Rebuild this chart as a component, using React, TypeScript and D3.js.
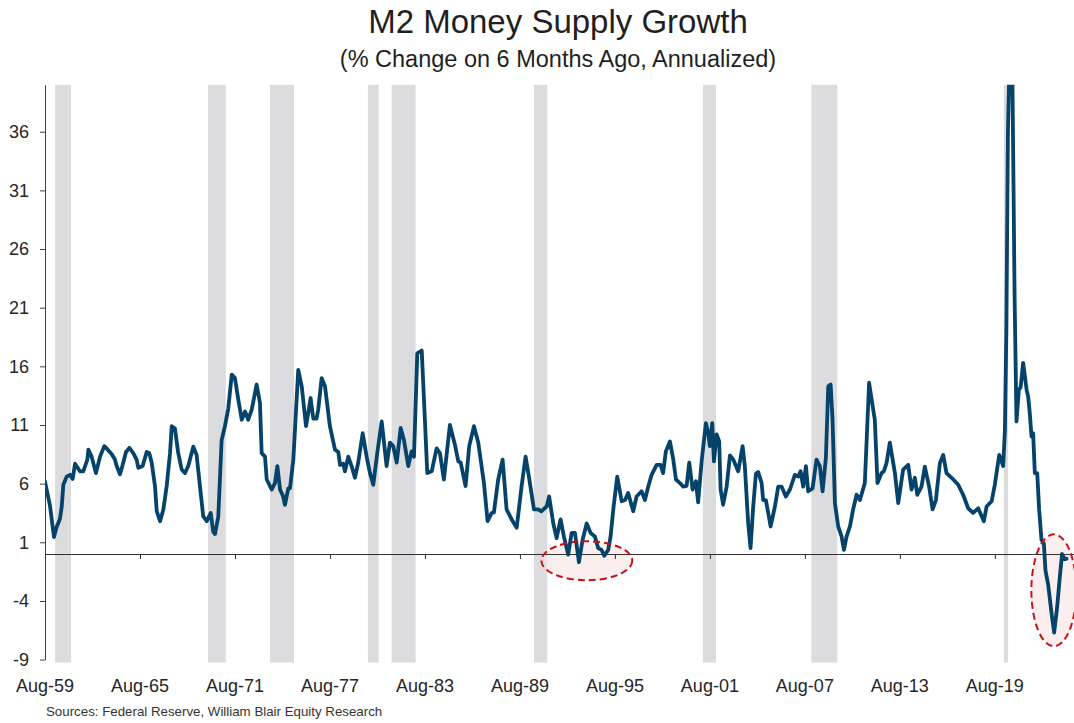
import { useEffect, useRef } from "react"
import * as d3 from "d3"

// [decimal year, % change on 6 months ago, annualized]
const m2Sixties = [
  [1959.58, 6.2], [1959.9, 4.1], [1960.15, 1.45], [1960.32, 2.3], [1960.53, 3.0], [1960.64, 4.05],
  [1960.74, 5.9], [1960.95, 6.6], [1961.16, 6.75], [1961.33, 6.4], [1961.48, 7.7], [1961.79, 7.05],
  [1962.0, 7.05], [1962.26, 8.05], [1962.32, 8.9], [1962.53, 8.3], [1962.8, 6.9], [1963.06, 8.3],
  [1963.33, 9.2], [1963.48, 9.0], [1963.8, 8.5], [1964.0, 8.05], [1964.11, 7.5], [1964.32, 6.8],
  [1964.43, 7.3], [1964.7, 8.7], [1964.91, 9.05], [1965.16, 8.6], [1965.37, 8.05], [1965.48, 7.35],
  [1965.75, 7.5], [1966.01, 8.7], [1966.17, 8.6], [1966.32, 7.8], [1966.53, 5.8], [1966.64, 3.65],
  [1966.85, 2.8], [1967.06, 3.8], [1967.27, 5.8], [1967.48, 8.6], [1967.59, 10.9], [1967.79, 10.7],
  [1968.0, 8.6], [1968.22, 7.2], [1968.43, 6.9], [1968.63, 7.5], [1968.95, 9.15], [1969.16, 8.45],
  [1969.37, 5.8], [1969.58, 3.2], [1969.8, 2.8],
]

const m2Seventies = [
  [1970.05, 3.5], [1970.21, 1.9], [1970.32, 1.7], [1970.53, 3.2], [1970.74, 9.7], [1970.95, 10.9],
  [1971.16, 12.4], [1971.38, 15.3], [1971.58, 15.0], [1971.79, 13.2], [1972.01, 11.45], [1972.22, 12.15],
  [1972.42, 11.45], [1972.64, 12.3], [1972.95, 14.45], [1973.16, 12.9], [1973.27, 8.6], [1973.48, 8.3],
  [1973.59, 6.35], [1973.9, 5.5], [1974.11, 6.05], [1974.26, 7.5], [1974.43, 5.5], [1974.63, 4.9],
  [1974.74, 4.2], [1974.95, 5.6], [1975.06, 5.6], [1975.27, 8.05], [1975.58, 15.7], [1975.8, 14.3],
  [1976.07, 10.9], [1976.21, 12.0], [1976.36, 13.3], [1976.53, 11.55], [1976.74, 11.55], [1976.84, 12.3],
  [1977.06, 15.0], [1977.27, 14.3], [1977.58, 10.9], [1977.9, 8.9], [1978.11, 8.7], [1978.22, 7.6],
  [1978.42, 7.7], [1978.53, 7.05], [1978.74, 8.3], [1978.95, 7.5], [1979.16, 6.5], [1979.37, 7.8],
  [1979.65, 10.3], [1979.9, 8.3],
]

const m2Eighties = [
  [1980.11, 6.9], [1980.32, 5.9], [1980.57, 8.6], [1980.85, 11.3], [1981.16, 7.5], [1981.37, 9.5],
  [1981.58, 9.2], [1981.8, 7.8], [1982.05, 10.75], [1982.26, 9.7], [1982.53, 7.5], [1982.74, 8.75],
  [1982.89, 8.3], [1983.1, 17.1], [1983.38, 17.35], [1983.58, 11.45], [1983.73, 6.9], [1984.01, 7.05],
  [1984.32, 9.0], [1984.53, 8.6], [1984.78, 6.35], [1985.16, 11.0], [1985.48, 9.3], [1985.69, 7.9],
  [1985.84, 7.8], [1986.15, 5.8], [1986.38, 9.2], [1986.68, 10.9], [1986.95, 9.5], [1987.31, 6.05],
  [1987.54, 2.8], [1987.8, 3.5], [1987.94, 3.55], [1988.21, 6.35], [1988.49, 8.05], [1988.74, 3.8],
  [1989.06, 2.95], [1989.38, 2.25], [1989.69, 5.8], [1989.94, 8.3],
]

const m2Nineties = [
  [1990.15, 6.6], [1990.47, 3.8], [1990.74, 3.8], [1990.95, 3.65], [1991.27, 4.05], [1991.43, 4.9],
  [1991.69, 2.6], [1991.9, 1.35], [1992.15, 2.95], [1992.36, 1.5], [1992.63, -0.05], [1992.85, 1.8],
  [1993.06, 1.8], [1993.31, -0.7], [1993.54, 1.2], [1993.8, 2.6], [1994.05, 1.8], [1994.32, 1.5],
  [1994.53, 0.5], [1994.74, 0.35], [1994.91, -0.15], [1995.16, 0.35], [1995.31, 1.5], [1995.48, 3.8],
  [1995.73, 6.6], [1996.01, 4.5], [1996.22, 4.6], [1996.42, 5.2], [1996.74, 3.65], [1996.95, 4.9],
  [1997.27, 5.35], [1997.48, 4.6], [1997.69, 5.75], [1997.9, 6.75], [1998.22, 7.6], [1998.47, 7.6],
  [1998.63, 6.9], [1998.8, 8.75], [1999.06, 9.6], [1999.27, 8.05], [1999.44, 6.35], [1999.69, 6.05],
  [1999.9, 5.75],
]

const m2Noughties = [
  [2000.11, 5.8], [2000.28, 7.8], [2000.49, 5.5], [2000.7, 6.2], [2000.84, 4.4], [2001.06, 7.9],
  [2001.33, 11.15], [2001.48, 10.3], [2001.58, 9.2], [2001.73, 11.15], [2001.84, 7.9], [2002.01, 10.2],
  [2002.17, 9.6], [2002.26, 5.5], [2002.42, 4.2], [2002.64, 5.75], [2002.85, 8.4], [2003.06, 8.05],
  [2003.37, 7.05], [2003.65, 9.2], [2003.79, 7.5], [2004.0, 2.65], [2004.15, 0.5], [2004.32, 4.05],
  [2004.49, 6.85], [2004.63, 7.0], [2004.85, 6.05], [2004.95, 4.6], [2005.12, 4.6], [2005.42, 2.35],
  [2005.69, 4.05], [2005.9, 5.75], [2006.11, 5.75], [2006.38, 4.9], [2006.64, 5.5], [2006.95, 6.75],
  [2007.16, 6.6], [2007.31, 7.05], [2007.48, 5.75], [2007.65, 7.5], [2007.79, 5.35], [2008.07, 5.6],
  [2008.32, 8.05], [2008.53, 7.5], [2008.7, 5.35], [2008.91, 8.2], [2009.06, 14.3], [2009.21, 14.45],
  [2009.33, 11.45], [2009.48, 4.35], [2009.69, 2.35], [2009.9, 1.5],
]

const m2Tens = [
  [2010.05, 0.35], [2010.22, 1.5], [2010.43, 2.35], [2010.63, 3.8], [2010.85, 5.05], [2011.06, 4.6],
  [2011.37, 6.05], [2011.64, 14.6], [2011.9, 12.3], [2012.0, 11.45], [2012.17, 6.05], [2012.43, 6.9],
  [2012.57, 7.05], [2012.74, 7.75], [2012.95, 9.5], [2013.27, 6.9], [2013.48, 4.35], [2013.79, 7.2],
  [2014.11, 7.6], [2014.32, 5.5], [2014.53, 6.5], [2014.68, 5.05], [2014.95, 5.75], [2015.16, 7.45],
  [2015.43, 5.75], [2015.65, 3.8], [2015.86, 4.6], [2016.11, 7.75], [2016.32, 8.45], [2016.53, 6.9],
  [2016.85, 6.5], [2017.27, 5.9], [2017.58, 5.05], [2017.9, 3.9], [2018.21, 3.5], [2018.53, 3.9],
  [2018.89, 2.8], [2019.06, 4.05], [2019.38, 4.5], [2019.58, 5.9], [2019.86, 8.45],
]

const m2Twenties = [
  [2020.11, 7.5], [2020.22, 10.6], [2020.31, 19], [2020.41, 36], [2020.5, 41.5], [2020.6, 42.5],
  [2020.69, 41], [2020.75, 33], [2020.83, 22], [2020.95, 11.3], [2021.1, 14.0], [2021.21, 14.2],
  [2021.37, 16.3], [2021.59, 14.0], [2021.69, 13.4], [2021.79, 12.0], [2021.9, 10.0], [2022.0, 10.3],
  [2022.11, 6.9], [2022.26, 6.9], [2022.38, 3.8], [2022.53, 1.2], [2022.68, 0.9], [2022.78, -1.4],
  [2022.95, -2.6], [2023.16, -5.0], [2023.33, -6.7], [2023.52, -4.5], [2023.69, -1.9], [2023.83, 0.0],
  [2024.0, -0.45], [2024.11, -0.4],
]

// NBER recessions (decimal years)
const recessionStart = [1960.22, 1969.88, 1973.79, 1979.98, 1981.48, 1990.47, 2001.14, 2007.99, 2020.15]
const recessionEnd = [1961.23, 1971.0, 1975.31, 1980.66, 1982.99, 1991.31, 2001.97, 2009.63, 2020.42]

const xTickYears = [1959.583, 1965.583, 1971.583, 1977.583, 1983.583, 1989.583, 1995.583, 2001.583, 2007.583, 2013.583, 2019.583]
const xTickLabels = ["Aug-59", "Aug-65", "Aug-71", "Aug-77", "Aug-83", "Aug-89", "Aug-95", "Aug-01", "Aug-07", "Aug-13", "Aug-19"]
const yTicks = [-9, -4, 1, 6, 11, 16, 21, 26, 31, 36]

// highlighted periods of negative growth: centre year, centre value, half-width (years), half-height (pts)
const highlightYear = [1993.81, 2023.31]
const highlightValue = [-0.57, -3.09]
const highlightHalfYears = [2.87, 1.42]
const highlightHalfPts = [1.66, 4.77]

const FONT = "'Liberation Sans', Arial, Helvetica, sans-serif"

export default function App() {
  const svgRef = useRef<SVGSVGElement>(null)

  useEffect(() => {
    if (!svgRef.current) return
    const svg = d3.select(svgRef.current)
    svg.selectAll("*").remove()

    const left = 45
    const right = 1074
    const x = d3.scaleLinear().domain([1959.583, 2024.583]).range([left, right])
    const y = d3.scaleLinear().domain([-9, 40]).range([659.6, 84.8])

    const series = [...m2Sixties, ...m2Seventies, ...m2Eighties, ...m2Nineties, ...m2Noughties, ...m2Tens, ...m2Twenties]

    svg
      .append("defs")
      .append("clipPath")
      .attr("id", "plot-clip")
      .append("rect")
      .attr("x", left)
      .attr("y", y(40))
      .attr("width", right - left)
      .attr("height", y(-9) - y(40))

    // recession shading
    svg
      .append("g")
      .selectAll("rect")
      .data(d3.zip(recessionStart, recessionEnd))
      .join("rect")
      .attr("x", (d) => x(d[0]))
      .attr("width", (d) => x(d[1]) - x(d[0]))
      .attr("y", y(40))
      .attr("height", y(-9) - y(40) + 3)
      .attr("fill", "#dcdcde")

    const hl = highlightYear.map((yr, i) => ({
      cx: x(yr),
      cy: y(highlightValue[i]),
      rx: x(yr + highlightHalfYears[i]) - x(yr),
      ry: y(highlightValue[i] - highlightHalfPts[i]) - y(highlightValue[i]),
    }))

    // ellipse fills under the line
    svg
      .append("g")
      .selectAll("ellipse")
      .data(hl)
      .join("ellipse")
      .attr("cx", (d) => d.cx)
      .attr("cy", (d) => d.cy)
      .attr("rx", (d) => d.rx)
      .attr("ry", (d) => d.ry)
      .attr("fill", "#f7e4e2")
      .attr("fill-opacity", 0.6)

    // y axis
    const yAxis = svg
      .append("g")
      .attr("transform", `translate(${left},0)`)
      .call(
        d3
          .axisLeft(y)
          .tickValues(yTicks)
          .tickSize(5)
          .tickSizeOuter(0)
          .tickPadding(11)
          .tickFormat((d) => String(d))
      )
    yAxis.select(".domain").attr("stroke", "#404040")
    yAxis.selectAll(".tick line").attr("stroke", "#404040")
    yAxis
      .selectAll(".tick text")
      .attr("font-family", FONT)
      .attr("font-size", 18)
      .attr("fill", "#262626")

    // x axis on the zero line
    const xAxis = svg
      .append("g")
      .attr("transform", `translate(0,${y(0)})`)
      .call(d3.axisBottom(x).tickValues(xTickYears).tickSize(5).tickSizeOuter(0).tickFormat(() => ""))
    xAxis.select(".domain").attr("stroke", "#303030")
    xAxis.selectAll(".tick line").attr("stroke", "#303030")

    // x labels at the bottom
    svg
      .append("g")
      .selectAll("text")
      .data(xTickYears)
      .join("text")
      .attr("x", (d) => x(d))
      .attr("y", 692)
      .attr("text-anchor", "middle")
      .attr("font-family", FONT)
      .attr("font-size", 18)
      .attr("fill", "#262626")
      .text((d, i) => xTickLabels[i])

    // M2 growth line
    const line = d3
      .line<number[]>()
      .x((d) => x(d[0]))
      .y((d) => y(d[1]))

    svg
      .append("path")
      .datum(series)
      .attr("clip-path", "url(#plot-clip)")
      .attr("d", line)
      .attr("fill", "none")
      .attr("stroke", "#05436a")
      .attr("stroke-width", 3.8)
      .attr("stroke-linejoin", "round")
      .attr("stroke-linecap", "round")

    // dashed ellipse outlines
    svg
      .append("g")
      .selectAll("ellipse")
      .data(hl)
      .join("ellipse")
      .attr("cx", (d) => d.cx)
      .attr("cy", (d) => d.cy)
      .attr("rx", (d) => d.rx)
      .attr("ry", (d) => d.ry)
      .attr("fill", "none")
      .attr("stroke", "#c8101a")
      .attr("stroke-width", 2)
      .attr("stroke-dasharray", "7,4")

    // titles
    svg
      .append("text")
      .attr("x", 558)
      .attr("y", 33)
      .attr("text-anchor", "middle")
      .attr("font-family", FONT)
      .attr("font-size", 33)
      .attr("fill", "#1f1f1f")
      .text("M2 Money Supply Growth")

    svg
      .append("text")
      .attr("x", 558)
      .attr("y", 67)
      .attr("text-anchor", "middle")
      .attr("font-family", FONT)
      .attr("font-size", 23.5)
      .attr("fill", "#1f1f1f")
      .text("(% Change on 6 Months Ago, Annualized)")

    svg
      .append("text")
      .attr("x", 46)
      .attr("y", 716)
      .attr("font-family", FONT)
      .attr("font-size", 13.3)
      .attr("fill", "#333333")
      .text("Sources: Federal Reserve, William Blair Equity Research")
  }, [])

  return (
    <svg
      ref={svgRef}
      width={1074}
      height={723}
      style={{ position: "absolute", left: 0, top: 0, background: "#ffffff" }}
    />
  )
}
